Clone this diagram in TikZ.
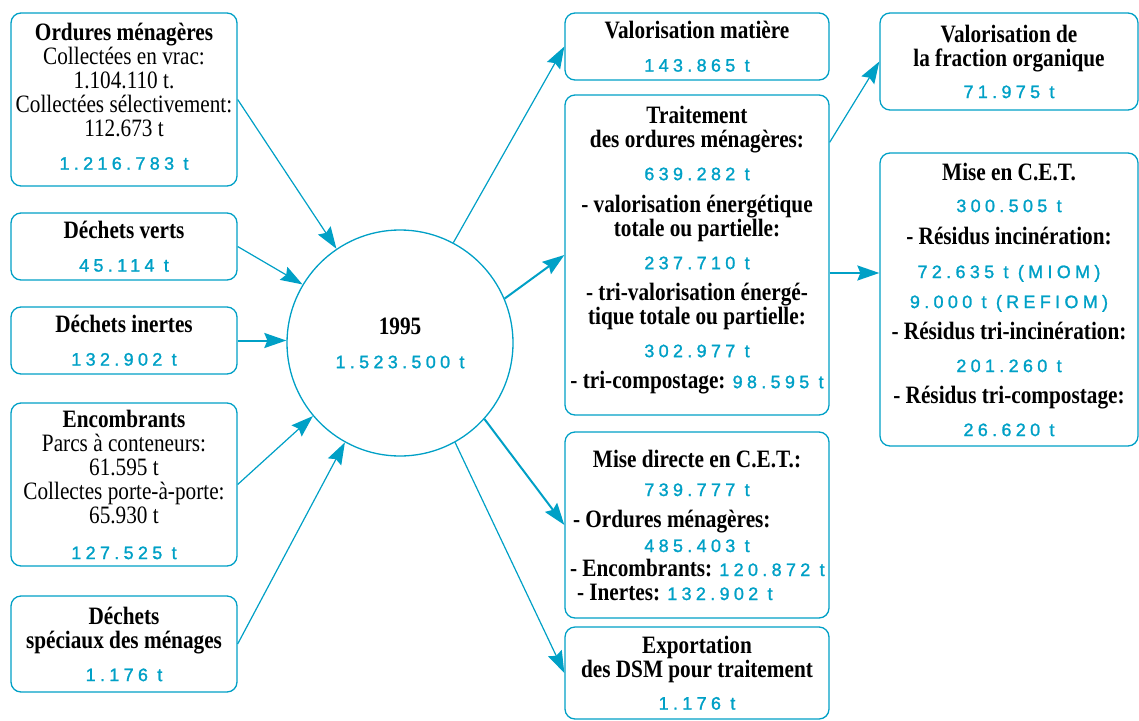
\documentclass[tikz,border=0pt]{standalone}
\usepackage{fontspec}
\setmainfont{Liberation Serif}[FakeStretch=0.85]
\newfontfamily\numfont{Liberation Sans}[LetterSpace=24, FakeBold=1.3]
\usepackage{tikz}
\usetikzlibrary{arrows.meta, positioning, calc}

\definecolor{flowblue}{RGB}{0,160,198}
\newcommand{\mainsize}{\fontsize{25}{24}\selectfont\lineskiplimit=-30pt}
\newcommand{\tonnage}[1]{{\numfont\mdseries\fontsize{18}{24}\selectfont\color{flowblue}#1}}

\begin{document}
\begin{tikzpicture}[
		x=1pt, y=-1pt,
		every node/.style={font=\mainsize},
		box/.style={draw=flowblue, line width=1.3pt, rounded corners=10pt, inner sep=2pt, align=center},
		leftbox/.style={box, minimum width=226pt},
		midbox/.style={box, minimum width=264pt},
		rightbox/.style={box, minimum width=258pt},
		heavy/.style={font=\mainsize\bfseries},
		arrow/.style={-{Stealth[length=22pt, width=15pt, inset=3pt]}, flowblue, line width=1.2pt},
		thickarrow/.style={arrow, line width=2pt}
		]
		\useasboundingbox (0,0) rectangle (1139,720);
		
		% === NODES ===
		
		% Sources on the left
		\node [leftbox, minimum height=173pt, text depth=6pt] (omen) at (124, 99.5) {\textbf{Ordures ménagères}\\ Collectées en vrac:\\ 1.104.110 t.\\ Collectées sélectivement:\\ 112.673 t\\[9pt] \tonnage{1.216.783 t}};
		\node [leftbox, heavy, minimum height=67pt] (verts) at (124, 246.5) {Déchets verts\\[9pt] \tonnage{45.114 t}};
		\node [leftbox, heavy, minimum height=67pt] (inertes) at (124, 340.5) {Déchets inertes\\[9pt] \tonnage{132.902 t}};
		\node [leftbox, minimum height=163pt] (enc) at (124, 484.5) {\textbf{Encombrants}\\ Parcs à conteneurs:\\ 61.595 t\\ Collectes porte-à-porte:\\ 65.930 t\\[12pt] \tonnage{127.525 t}};
		\node [leftbox, heavy, minimum height=96pt] (dsm) at (124, 644) {Déchets\\ spéciaux des ménages\\[9pt] \tonnage{1.176 t}};
		
		% Total for the year
		\node [draw=flowblue, line width=1.3pt, circle, minimum size=226pt, align=center] (year) at (400, 343) {\textbf{1995}\\[10pt] \tonnage{1.523.500 t}};
		
		% Destinations
		\node [midbox, heavy, minimum height=67pt] (valmat) at (697, 46.5) {Valorisation matière\\[9pt] \tonnage{143.865 t}};
		\node [midbox, heavy, minimum height=320pt, text depth=16pt] (trait) at (697, 255) {Traitement\\ des ordures ménagères:\\[9pt] \tonnage{639.282 t}\\[8pt] - valorisation énergétique\\ totale ou partielle:\\[9pt] \tonnage{237.710 t}\\[7pt] - tri-valorisation énergé-\\ tique totale ou partielle:\\[9pt] \tonnage{302.977 t}\\[7pt] - tri-compostage: \tonnage{98.595 t}};
		\node [midbox, heavy, minimum height=186pt] (mdir) at (697, 525) {Mise directe en C.E.T.:\\[5pt] \tonnage{739.777 t}\\[7pt] \makebox[248pt][l]{- Ordures ménagères:}\\[1pt] \tonnage{485.403 t}\\ \makebox[254pt][l]{- Encombrants: \tonnage{120.872 t}}\\ \makebox[240pt][l]{- Inertes: \tonnage{132.902 t}}};
		\node [midbox, heavy, minimum height=92pt] (expo) at (697, 673) {Exportation\\ des DSM pour traitement\\[8pt] \tonnage{1.176 t}};
		
		% Second stage on the right
		\node [rightbox, heavy, minimum height=97pt] (frac) at (1009, 61.5) {Valorisation de\\ la fraction organique\\[8pt] \tonnage{71.975 t}};
		\node [rightbox, heavy, minimum height=293pt] (cet) at (1009, 299.5) {Mise en C.E.T.\\[8pt] \tonnage{300.505 t}\\[8pt] - Résidus incinération:\\[10pt] \tonnage{72.635 t (MIOM)}\\[6pt] \tonnage{9.000 t (REFIOM)}\\[7pt] - Résidus tri-incinération:\\[9pt] \tonnage{201.260 t}\\[7pt] - Résidus tri-compostage:\\[9pt] \tonnage{26.620 t}};
		
		% === ARROWS ===
		
		% Into the circle
		\draw[arrow] (omen.east) -- (year.124);
		\draw[arrow] (verts.east) -- (year.149);
		\draw[thickarrow] (inertes.east) -- (inertes.east -| year.west);
		\draw[arrow] (enc.east) -- (year.220);
		\draw[arrow] (dsm.east) -- (year.241);
		
		% Out of the circle
		\draw[arrow] (year.62) -- (valmat.west);
		\draw[thickarrow] (year.23) -- (trait.west);
		\draw[thickarrow] (year.-42) -- (mdir.west);
		\draw[arrow] (year.-61) -- (expo.west);
		
		% Out of the treatment box
		\draw[arrow] ([yshift=-48pt]trait.north east) -- (frac.west);
		\draw[thickarrow] ([yshift=-18pt]trait.east) -- ([yshift=-18pt]trait.east -| cet.west);
		
	\end{tikzpicture}
\end{document}
